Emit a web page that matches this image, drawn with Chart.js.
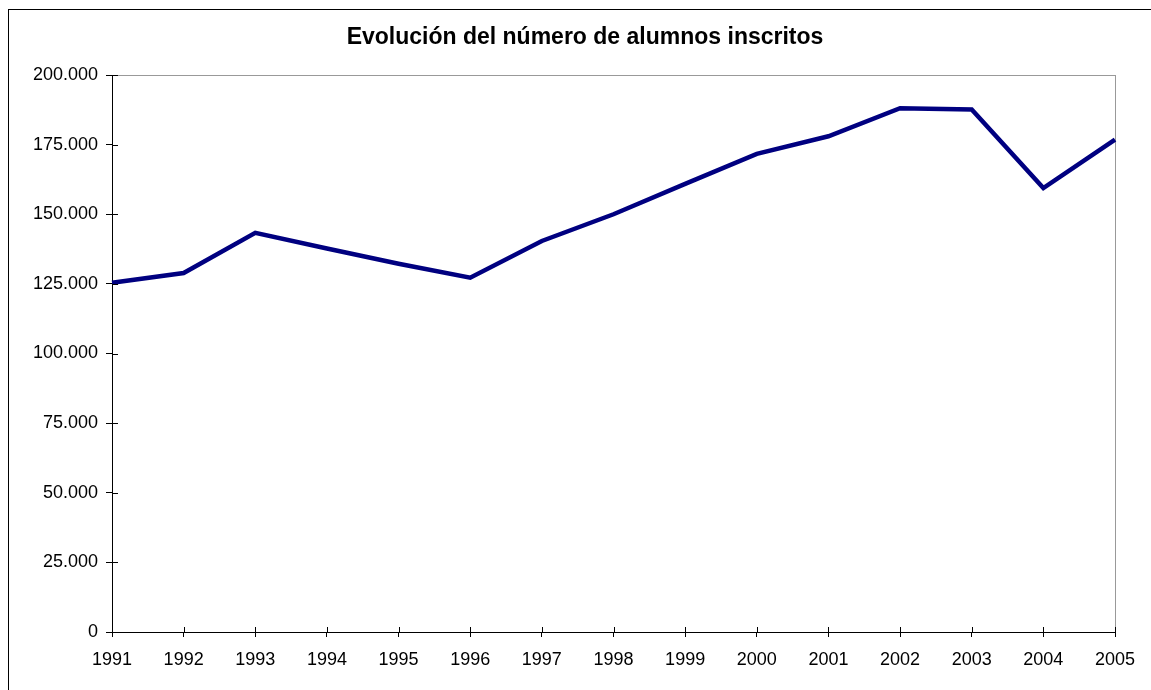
<!DOCTYPE html>
<html>
<head>
<meta charset="utf-8">
<script src="https://cdn.jsdelivr.net/npm/chart.js@4"></script>
<style>
  html, body { margin: 0; padding: 0; background: #fff; }
  #grafico { display: block; }
</style>
</head>
<body>
<canvas id="grafico" width="1151" height="690"></canvas>
<script>
const anos = ['1991', '1992', '1993', '1994', '1995', '1996', '1997', '1998',
  '1999', '2000', '2001', '2002', '2003', '2004', '2005'];
const alumnos = [125400, 128900, 143300, 137700, 132200, 127200, 140400, 150000,
  160900, 171700, 178000, 188100, 187600, 159400, 176800];
const titulo = 'Evolución del número de alumnos inscritos';

// marco exterior, borde gris del área, título y marcas interiores de los ejes
const marcos = {
  id: 'marcos',
  beforeDraw(chart) {
    const c = chart.ctx;
    const a = chart.chartArea;
    c.save();
    c.strokeStyle = '#000';
    c.lineWidth = 1;
    c.strokeRect(8.5, 9.5, 1200, 1000);
    c.strokeStyle = '#999';
    c.strokeRect(a.left + 0.5, a.top + 0.5, a.right - a.left, a.bottom - a.top);

    c.fillStyle = '#000';
    c.font = 'bold 23px "Liberation Sans", Arial';
    c.textAlign = 'center';
    c.textBaseline = 'alphabetic';
    c.fillText(titulo, 585, 44);
    c.restore();
  },
  afterDatasetsDraw(chart) {
    const c = chart.ctx;
    const x = chart.scales.x, y = chart.scales.y;
    c.save();
    c.strokeStyle = '#000';
    c.lineWidth = 1;
    c.beginPath();
    y.ticks.forEach((t, i) => {
      const py = Math.round(y.getPixelForTick(i)) + 0.5;
      c.moveTo(x.left, py);
      c.lineTo(x.left + 6, py);
    });
    x.ticks.forEach((t, i) => {
      const px = Math.round(x.getPixelForTick(i)) + 0.5;
      c.moveTo(px, y.bottom);
      c.lineTo(px, y.bottom - 5);
    });
    c.stroke();
    c.restore();
  }
};

function miles(v) {
  return String(v).replace(/\B(?=(\d{3})+(?!\d))/g, '.');
}

const ctx = document.getElementById('grafico').getContext('2d');
const grafico = new Chart(ctx, {
  type: 'line',
  data: {
    labels: anos,
    datasets: [{
      data: alumnos,
      borderColor: '#000080',
      borderWidth: 4.5,
      pointRadius: 0,
      tension: 0,
      fill: false
    }]
  },
  options: {
    animation: false,
    responsive: false,
    layout: { padding: { left: 0, right: 36, top: 75, bottom: 0 } },
    scales: {
      x: {
        offset: false,
        grid: { drawOnChartArea: false, tickLength: 5, color: '#000' },
        border: { color: '#000' },
        ticks: { color: '#000', padding: 12, maxRotation: 0, autoSkip: false,
          font: { family: 'Liberation Sans, Arial', size: 18 } },
        afterFit(s) { s.height = 58; }
      },
      y: {
        min: 0,
        max: 200000,
        grid: { drawOnChartArea: false, tickLength: 6, color: '#000' },
        border: { color: '#000' },
        ticks: { stepSize: 25000, color: '#000', padding: 8,
          font: { family: 'Liberation Sans, Arial', size: 18 },
          callback: v => miles(v) },
        afterFit(s) { s.width = 112; }
      }
    },
    plugins: {
      legend: { display: false },
      tooltip: { enabled: false },
      title: { display: false }
    }
  },
  plugins: [marcos]
});
</script>
</body>
</html>
